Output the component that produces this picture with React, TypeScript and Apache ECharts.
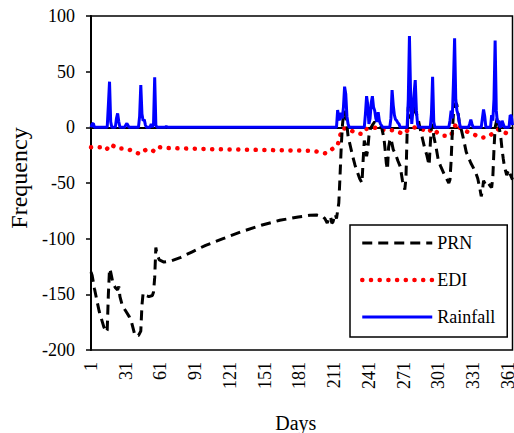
import React, { useEffect, useRef } from "react";
import * as echarts from "echarts";

const xTickLabels = [1, 31, 61, 91, 121, 151, 181, 211, 241, 271, 301, 331, 361];
const yTicks = { min: -200, max: 100, interval: 50 };

const prn: [number, number][] = [
  [1, -130], [2, -133], [4, -145], [6, -155], [8, -165], [10, -172], [12, -179], [14, -184], [15, -182],
  [16, -150], [17, -127], [18, -130], [20, -140], [22, -144], [24, -146], [25, -143], [26, -152], [28, -160],
  [31, -165], [34, -170], [36, -175], [38, -183], [39, -187], [42, -187], [44, -183], [45, -160], [46, -149],
  [48, -151], [51, -152], [54, -151], [55, -148], [56, -135], [57, -108], [58, -114], [60, -119], [64, -121],
  [70, -120], [78, -117], [88, -112], [100, -106], [115, -100], [130, -94], [148, -88], [164, -83.5],
  [180, -80.5], [190, -79], [196, -78.8], [201, -80], [203, -82], [205, -86], [206, -83], [207, -80],
  [208, -81], [209, -86], [210, -85], [211, -81], [212, -78], [213, -82], [214, -75], [215, -68], [216, -45],
  [217, -20], [218, 0], [219, 12], [220, 15], [221, 10], [222, 2], [223, -8], [225, -17], [227, -26],
  [229, -34], [231, -40], [233, -46], [235, -50], [236, -30], [237, -12], [238, -16], [239, -26], [240, -20],
  [241, -8], [242, -2], [244, 2], [246, 5], [248, 3], [250, 2], [252, 0], [253, -5], [254, -10], [255, -20],
  [256, -32], [257, -38], [258, -18], [259, -12], [260, -10], [262, -20], [264, -24], [266, -30], [268, -35],
  [270, -48], [271, -52], [272, -56], [273, -45], [274, -5], [275, 18], [276, 20], [277, 8], [278, 15],
  [279, 26], [280, 20], [281, 14], [283, 10], [285, 0], [287, -9], [289, -18], [291, -25], [293, -34],
  [294, -15], [295, 0], [296, 3], [297, -8], [299, -18], [301, -30], [303, -35], [306, -42], [308, -46],
  [310, -50], [311, -47], [312, -30], [313, -5], [314, 12], [315, 18], [316, 22], [317, 20], [319, 5],
  [321, -3], [323, -12], [325, -22], [327, -27], [329, -32], [331, -36], [333, -40], [335, -46], [337, -56],
  [338, -62], [339, -57], [340, -48], [342, -52], [344, -50], [346, -53], [347, -54], [348, -45], [349, -20],
  [350, 0], [352, 9], [354, -3], [355, -10], [356, -20], [357, -28], [358, -35], [360, -43], [361, -40],
  [362, -38], [363, -42], [365, -47],
];

const edi: [number, number][] = [
  [1, -18], [2, -18], [9, -18], [14, -20.4], [18, -15.3], [24, -19], [30, -19], [37, -21], [43, -24],
  [48, -20.4], [54, -22], [58, -17.4], [64, -18.5], [80, -19], [100, -19.5], [130, -20], [160, -20.5],
  [190, -21], [198, -22], [204, -23.5], [210, -19], [214, -16], [216, -8], [218, -1], [223, -1], [229, -5],
  [235, -6], [238, -1.5], [243, -1], [248, 0], [254, -2.5], [260, -2.5], [265, -3.3], [271, -6.3],
  [276, -1], [280, 0], [286, -1], [292, -4.5], [296, -1], [300, -4.8], [306, -7.5], [312, -7.5], [314, -1],
  [317, 4], [320, -1], [327, -4.5], [333, -7], [338, -9.3], [344, -8.5], [348, -5.4], [353, -1.5],
  [360, -5.5], [365, -4],
];

const rainfall: [number, number][] = [
  [1, 0], [2, 3], [3, 3.5], [4, 0], [15, 0], [16, 20], [17, 41], [18, 5], [19, 0], [22, 0], [23, 8],
  [24, 12.5], [25, 5], [26, 0], [30, 0], [31, 2], [32, 3.5], [33, 1.5], [34, 0], [42, 0], [43, 10], [44, 38],
  [45, 12], [46, 6], [47, 7], [48, 2], [49, 0], [52, 0], [53, 3], [54, 0], [55, 3], [56, 45], [57, 2],
  [58, 0], [65, 0], [66, 1], [67, 0], [213, 0], [214, 15.5], [215, 8], [216, 6.5], [217, 13], [218, 8],
  [219, 18], [220, 36.5], [221, 30], [222, 10], [223, 3], [224, 0], [237, 0], [238, 12], [239, 28],
  [240, 20], [241, 3], [242, 8], [243, 22], [244, 28], [245, 18], [246, 15], [247, 8], [248, 5],
  [249, 13.5], [250, 6], [251, 3], [253, 0], [259, 0], [260, 8], [261, 33.5], [262, 20], [263, 11],
  [264, 7], [265, 6], [266, 4], [267, 3], [268, 0], [274, 0], [275, 25], [276, 82], [277, 30], [278, 3],
  [279, 15], [280, 30], [281, 42.5], [282, 15], [283, 3], [284, 0], [294, 0], [295, 12], [296, 45.5],
  [297, 5], [298, 0], [310, 0], [311, 6], [312, 15], [313, 8], [314, 40], [315, 80], [316, 25], [317, 15],
  [318, 12], [319, 5], [320, 0], [327, 0], [328, 3], [329, 7], [330, 3], [331, 0], [338, 0], [339, 8],
  [340, 16], [341, 10], [342, 0], [346, 0], [347, 11], [348, 6], [349, 25], [350, 78], [351, 15],
  [352, 4], [353, 6], [354, 1], [355, 0], [356, 6], [357, 3], [358, 0], [362, 0], [363, 11], [364, 10],
  [365, 2],
];

const FONT = '"Liberation Serif", "Times New Roman", serif';

const prnLine = { color: "#000", width: 3, type: [10, 6] as number[] };
const ediLine = { color: "#ff0000", width: 4.5, type: [0.1, 8.6] as number[], cap: "round" };
const rainLine = { color: "#0000ff", width: 3 };

export default function App() {
  const ref = useRef<HTMLDivElement>(null);
  useEffect(() => {
    if (!ref.current) return;
    const chart = echarts.init(ref.current, null, { renderer: "svg" });
    chart.setOption({
      animation: false,
      backgroundColor: "#fff",
      textStyle: { fontFamily: FONT, color: "#000" },
      grid: {
        left: 91,
        top: 16,
        right: 1.5,
        bottom: 83,
        outerBoundsMode: "none",
        containLabel: false,
        show: true,
        borderColor: "#000",
        borderWidth: 1.5,
      },
      legend: {
        orient: "vertical",
        left: 350,
        top: 225,
        padding: [9, 12, 11, 10],
        itemGap: 19,
        itemWidth: 70,
        itemHeight: 14,
        borderColor: "#000",
        borderWidth: 1.5,
        backgroundColor: "#fff",
        itemStyle: { opacity: 0 },
        textStyle: { fontFamily: FONT, fontSize: 18, color: "#000", lineHeight: 18 },
        data: [
          { name: "PRN", lineStyle: { width: 3 } },
          { name: "EDI", lineStyle: { width: 4.5 } },
          { name: "Rainfall", lineStyle: { width: 3 } },
        ],
      },
      xAxis: {
        type: "value",
        min: 1,
        max: 365,
        name: "Days",
        nameLocation: "middle",
        nameGap: 63,
        nameTextStyle: { fontFamily: FONT, fontSize: 20, color: "#000", padding: [0, 12, 0, 0] },
        axisLine: { show: true, lineStyle: { color: "#000", width: 2 } },
        axisTick: { show: false, customValues: xTickLabels },
        splitLine: { show: false },
        axisLabel: {
          customValues: xTickLabels,
          rotate: 90,
          margin: 12,
          fontFamily: FONT,
          fontSize: 18,
          color: "#000",
        },
      },
      yAxis: {
        type: "value",
        min: yTicks.min,
        max: yTicks.max,
        interval: yTicks.interval,
        name: "Frequency",
        nameLocation: "middle",
        nameRotate: 90,
        nameGap: 56,
        nameTextStyle: { fontFamily: FONT, fontSize: 24, color: "#000", padding: [0, 0, 0, 10] },
        axisLine: { show: true, lineStyle: { color: "#000", width: 2 } },
        axisTick: { show: true, length: 5, lineStyle: { color: "#000", width: 1.5 } },
        splitLine: { show: false },
        axisLabel: { margin: 16, fontFamily: FONT, fontSize: 18, color: "#000" },
      },
      series: [
        {
          name: "PRN",
          type: "line",
          data: prn,
          symbol: "none",
          z: 3,
          lineStyle: prnLine,
          itemStyle: { color: "#000" },
        },
        {
          name: "EDI",
          type: "line",
          data: edi,
          symbol: "none",
          z: 2,
          lineStyle: ediLine,
          itemStyle: { color: "#ff0000" },
        },
        {
          name: "Rainfall",
          type: "line",
          data: rainfall,
          symbol: "none",
          z: 4,
          lineStyle: rainLine,
          itemStyle: { color: "#0000ff" },
        },
      ],
    });
    return () => chart.dispose();
  }, []);
  return (
    <div
      ref={ref}
      style={{ position: "fixed", left: 0, top: 0, width: 514, height: 433, background: "#fff" }}
    />
  );
}
